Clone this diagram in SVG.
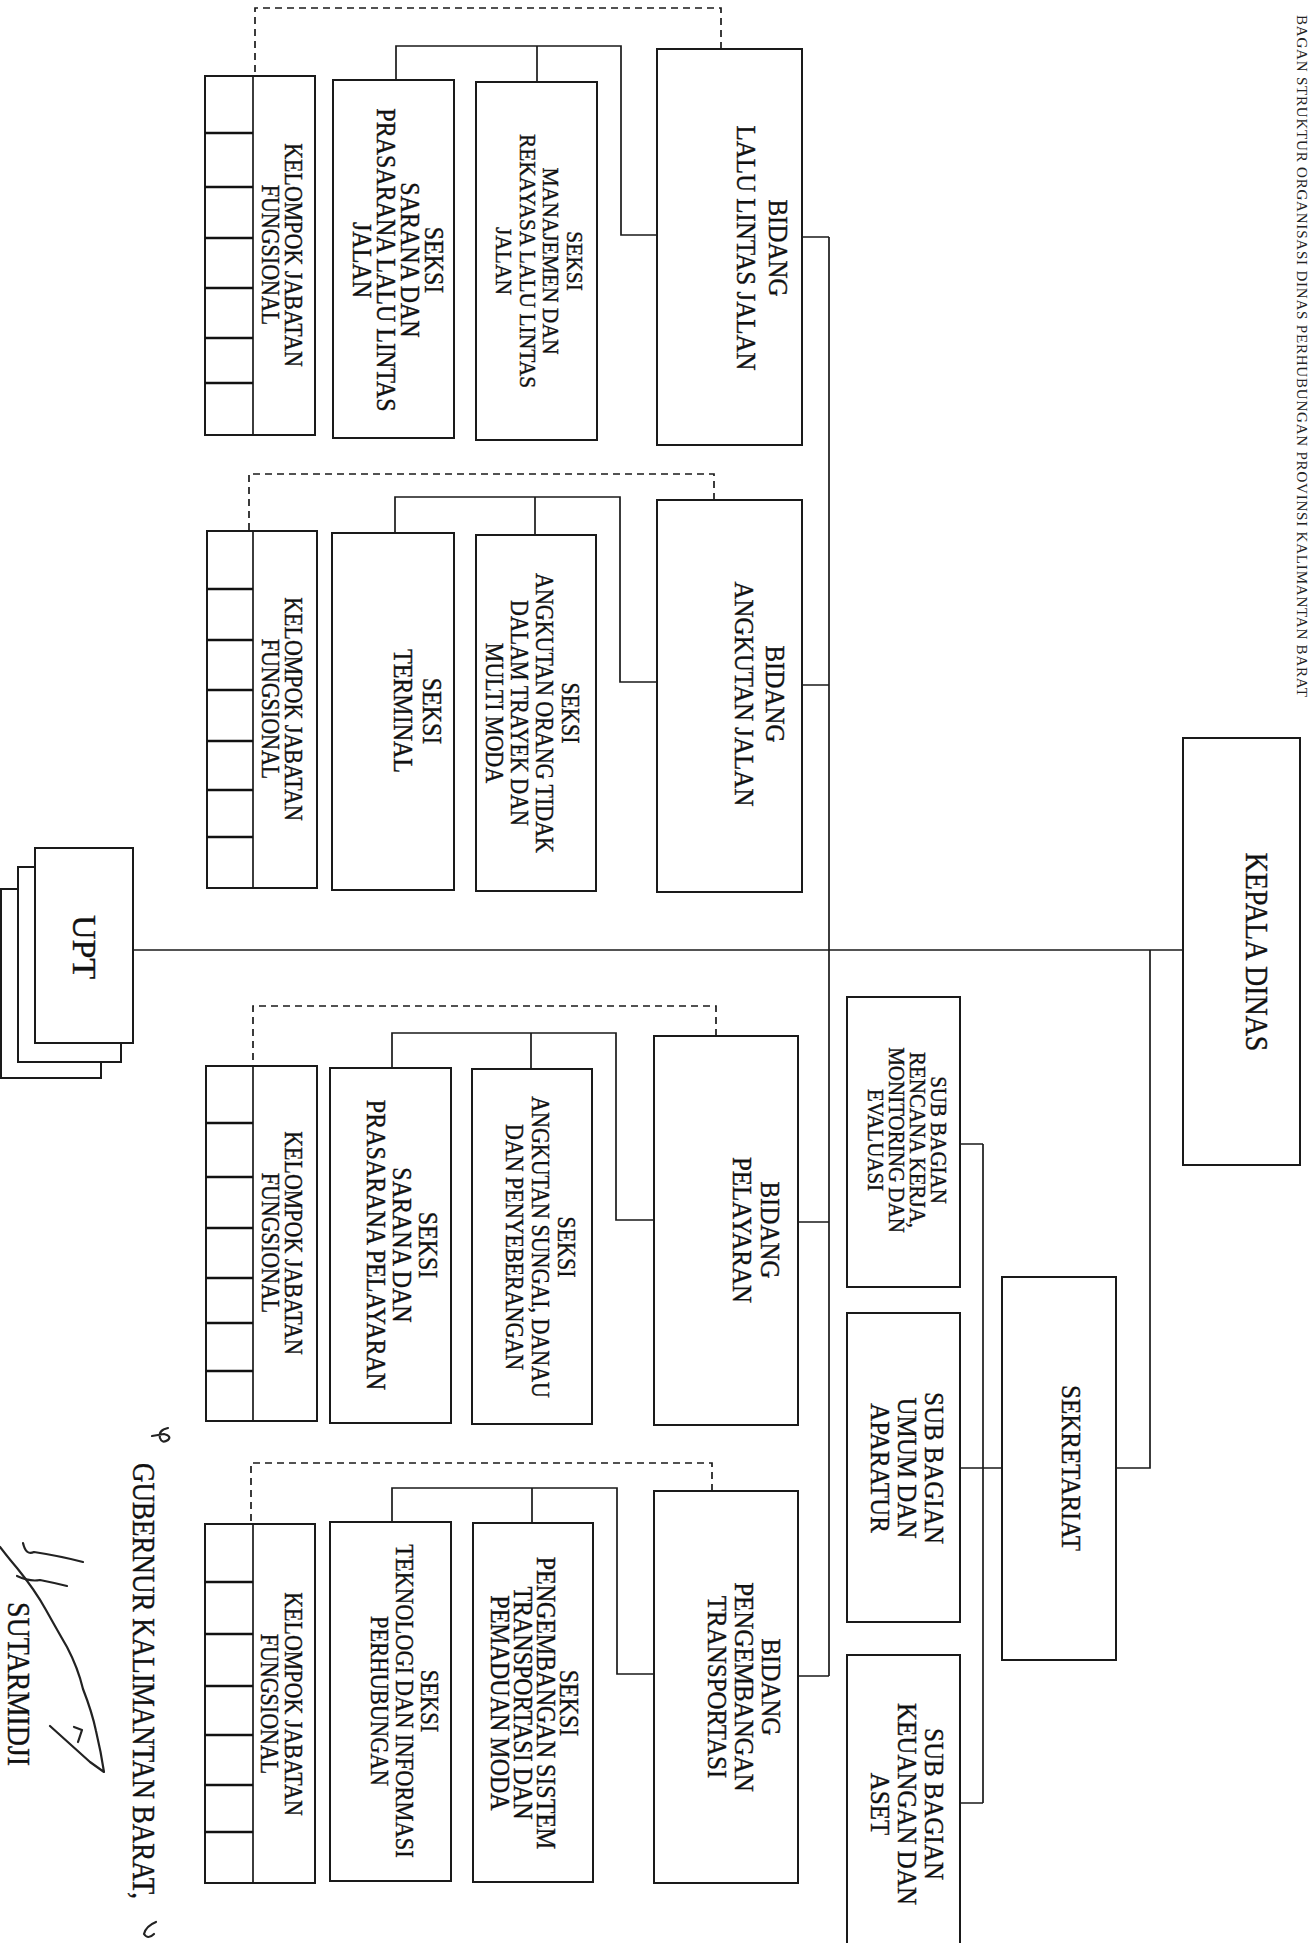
<svg xmlns="http://www.w3.org/2000/svg" width="1309" height="1943" viewBox="0 0 1309 1943">
<style>
.bg{fill:#fff}
.box{fill:#fff;stroke:#1a1a1a;stroke-width:2}
.ln{fill:none;stroke:#1a1a1a;stroke-width:1.7}
.dash{fill:none;stroke:#1a1a1a;stroke-width:1.7;stroke-dasharray:7 5}
.cell{fill:none;stroke:#111;stroke-width:2.4}
.t{font-family:"Liberation Serif","Times New Roman",serif;fill:#111;stroke:#111;stroke-width:0.35;text-anchor:middle}
.hd{font-family:"Liberation Serif","Times New Roman",serif;fill:#222;letter-spacing:0.8px}
.ink{fill:none;stroke:#222;stroke-width:2.2;stroke-linecap:round;stroke-linejoin:round}
</style>
<rect class="bg" x="0" y="0" width="1309" height="1943"/>

<text class="hd" font-size="15" transform="translate(1297,15) rotate(90)">BAGAN STRUKTUR ORGANISASI DINAS PERHUBUNGAN PROVINSI KALIMANTAN BARAT</text>

<g id="connectors">
  <path class="ln" d="M133 950 H1183"/>
  <path class="ln" d="M829 237 V1676"/>
  <path class="ln" d="M802 237 H829 M802 685 H829 M798 1222 H829 M798 1676 H829"/>
  <path class="ln" d="M1150 950 V1468 H1116"/>
  <path class="ln" d="M1002 1468 H960 M983 1144 V1803 M960 1144 H983 M960 1803 H983"/>
  <path class="ln" d="M657 235 H621 V46 H396 V80 M537 46 V82"/>
  <path class="ln" d="M657 682 H620 V497 H395 V533 M535 497 V535"/>
  <path class="ln" d="M654 1220 H616 V1033 H392 V1068 M531 1033 V1069"/>
  <path class="ln" d="M654 1674 H617 V1488 H392 V1522 M532 1488 V1523"/>
  <path class="dash" d="M721 49 V8 H255 V76"/>
  <path class="dash" d="M714 500 V474 H249 V531"/>
  <path class="dash" d="M716 1036 V1006 H253 V1066"/>
  <path class="dash" d="M712 1491 V1463 H251 V1524"/>
</g>

<g id="kepala-dinas">
  <rect class="box" x="1183" y="738" width="117" height="427"/>
  <text class="t" font-size="28" transform="translate(1246,952) rotate(90) scale(1,1.1)">KEPALA DINAS</text>
</g>

<g id="sekretariat">
  <rect class="box" x="1002" y="1277" width="114" height="383"/>
  <text class="t" font-size="25" transform="translate(1062,1468) rotate(90) scale(1,1.1)">SEKRETARIAT</text>
</g>

<g id="subbag-rencana">
  <rect class="box" x="847" y="997" width="113" height="290"/>
  <text class="t" font-size="21" transform="translate(931,1140) rotate(90) scale(1,1.1)"><tspan x="0" y="0">SUB  BAGIAN</tspan><tspan x="0" y="19.1">RENCANA KERJA,</tspan><tspan x="0" y="38.2">MONITORING DAN</tspan><tspan x="0" y="57.3">EVALUASI</tspan></text>
</g>

<g id="subbag-umum">
  <rect class="box" x="847" y="1313" width="113" height="309"/>
  <text class="t" font-size="25" transform="translate(925,1468) rotate(90) scale(1,1.1)"><tspan x="0" y="0">SUB BAGIAN</tspan><tspan x="0" y="24.5">UMUM DAN</tspan><tspan x="0" y="49.1">APARATUR</tspan></text>
</g>

<g id="subbag-keuangan">
  <rect class="box" x="847" y="1655" width="113" height="300"/>
  <text class="t" font-size="25" transform="translate(925,1804) rotate(90) scale(1,1.1)"><tspan x="0" y="0">SUB BAGIAN</tspan><tspan x="0" y="24.5">KEUANGAN DAN</tspan><tspan x="0" y="49.1">ASET</tspan></text>
</g>

<g id="upt">
  <rect class="box" x="1" y="889" width="100" height="189"/>
  <rect class="box" x="18" y="867" width="103" height="195"/>
  <rect class="box" x="35" y="848" width="98" height="195"/>
  <text class="t" font-size="34" transform="translate(73,947) rotate(90)">UPT</text>
</g>

<g id="bidang-llaj">
  <rect class="box" x="657" y="49" width="145" height="396"/>
  <text class="t" font-size="25" transform="translate(769,248) rotate(90) scale(1,1.1)"><tspan x="0" y="0">BIDANG</tspan><tspan x="0" y="29.1">LALU LINTAS JALAN</tspan></text>
</g>
<g id="seksi-manajemen">
  <rect class="box" x="476" y="82" width="121" height="358"/>
  <text class="t" font-size="21.5" transform="translate(567,261) rotate(90) scale(1,1.1)"><tspan x="0" y="0">SEKSI</tspan><tspan x="0" y="21.4">MANAJEMEN DAN</tspan><tspan x="0" y="42.7">REKAYASA LALU LINTAS</tspan><tspan x="0" y="64.1">JALAN</tspan></text>
</g>
<g id="seksi-sarana-llaj">
  <rect class="box" x="333" y="80" width="121" height="358"/>
  <text class="t" font-size="24" transform="translate(425,260) rotate(90) scale(1,1.1)"><tspan x="0" y="0">SEKSI</tspan><tspan x="0" y="21.8">SARANA DAN</tspan><tspan x="0" y="43.6">PRASARANA LALU LINTAS</tspan><tspan x="0" y="65.5">JALAN</tspan></text>
</g>
<g id="kelompok-1">
  <rect class="box" x="205" y="76" width="110" height="359"/>
  <path class="ln" d="M253 76 V435"/>
  <path class="cell" d="M205 133 H253 M205 187 H253 M205 238 H253 M205 288 H253 M205 338 H253 M205 383 H253"/>
  <text class="t" font-size="22" transform="translate(285,255) rotate(90) scale(1,1.1)"><tspan x="0" y="0">KELOMPOK JABATAN</tspan><tspan x="0" y="20.9">FUNGSIONAL</tspan></text>
</g>

<g id="bidang-angkutan">
  <rect class="box" x="657" y="500" width="145" height="392"/>
  <text class="t" font-size="25" transform="translate(766,694) rotate(90) scale(1,1.1)"><tspan x="0" y="0">BIDANG</tspan><tspan x="0" y="28.2">ANGKUTAN JALAN</tspan></text>
</g>
<g id="seksi-angkutan-orang">
  <rect class="box" x="476" y="535" width="120" height="356"/>
  <text class="t" font-size="22" transform="translate(562,713) rotate(90) scale(1,1.1)"><tspan x="0" y="0">SEKSI</tspan><tspan x="0" y="23.2">ANGKUTAN ORANG TIDAK</tspan><tspan x="0" y="46.4">DALAM TRAYEK DAN</tspan><tspan x="0" y="69.5">MULTI MODA</tspan></text>
</g>
<g id="seksi-terminal">
  <rect class="box" x="332" y="533" width="122" height="357"/>
  <text class="t" font-size="24" transform="translate(423,711) rotate(90) scale(1,1.1)"><tspan x="0" y="0">SEKSI</tspan><tspan x="0" y="26.4">TERMINAL</tspan></text>
</g>
<g id="kelompok-2">
  <rect class="box" x="207" y="531" width="110" height="357"/>
  <path class="ln" d="M253 531 V888"/>
  <path class="cell" d="M207 589 H253 M207 640 H253 M207 690 H253 M207 741 H253 M207 790 H253 M207 837 H253"/>
  <text class="t" font-size="22" transform="translate(285,709) rotate(90) scale(1,1.1)"><tspan x="0" y="0">KELOMPOK JABATAN</tspan><tspan x="0" y="20.9">FUNGSIONAL</tspan></text>
</g>

<g id="bidang-pelayaran">
  <rect class="box" x="654" y="1036" width="144" height="389"/>
  <text class="t" font-size="25" transform="translate(761,1230) rotate(90) scale(1,1.1)"><tspan x="0" y="0">BIDANG</tspan><tspan x="0" y="25.5">PELAYARAN</tspan></text>
</g>
<g id="seksi-angkutan-sungai">
  <rect class="box" x="472" y="1069" width="120" height="355"/>
  <text class="t" font-size="22" transform="translate(558,1247) rotate(90) scale(1,1.1)"><tspan x="0" y="0">SEKSI</tspan><tspan x="0" y="23.6">ANGKUTAN SUNGAI, DANAU</tspan><tspan x="0" y="47.3">DAN PENYEBERANGAN</tspan></text>
</g>
<g id="seksi-sarana-pelayaran">
  <rect class="box" x="330" y="1068" width="121" height="355"/>
  <text class="t" font-size="24" transform="translate(419,1245) rotate(90) scale(1,1.1)"><tspan x="0" y="0">SEKSI</tspan><tspan x="0" y="23.6">SARANA DAN</tspan><tspan x="0" y="47.3">PRASARANA PELAYARAN</tspan></text>
</g>
<g id="kelompok-3">
  <rect class="box" x="206" y="1066" width="111" height="355"/>
  <path class="ln" d="M253 1066 V1421"/>
  <path class="cell" d="M206 1123 H253 M206 1177 H253 M206 1228 H253 M206 1278 H253 M206 1323 H253 M206 1371 H253"/>
  <text class="t" font-size="22" transform="translate(285,1243) rotate(90) scale(1,1.1)"><tspan x="0" y="0">KELOMPOK JABATAN</tspan><tspan x="0" y="20.9">FUNGSIONAL</tspan></text>
</g>

<g id="bidang-pengembangan">
  <rect class="box" x="654" y="1491" width="144" height="392"/>
  <text class="t" font-size="25" transform="translate(762,1687) rotate(90) scale(1,1.1)"><tspan x="0" y="0">BIDANG</tspan><tspan x="0" y="24.5">PENGEMBANGAN</tspan><tspan x="0" y="49.1">TRANSPORTASI</tspan></text>
</g>
<g id="seksi-pengembangan-sistem">
  <rect class="box" x="473" y="1523" width="120" height="359"/>
  <text class="t" font-size="24" transform="translate(560,1703) rotate(90) scale(1,1.1)"><tspan x="0" y="0">SEKSI</tspan><tspan x="0" y="20.9">PENGEMBANGAN SISTEM</tspan><tspan x="0" y="41.8">TRANSPORTASI DAN</tspan><tspan x="0" y="62.7">PEMADUAN MODA</tspan></text>
</g>
<g id="seksi-teknologi">
  <rect class="box" x="330" y="1522" width="121" height="359"/>
  <text class="t" font-size="22.5" transform="translate(421,1701) rotate(90) scale(1,1.1)"><tspan x="0" y="0">SEKSI</tspan><tspan x="0" y="22.7">TEKNOLOGI DAN INFORMASI</tspan><tspan x="0" y="45.5">PERHUBUNGAN</tspan></text>
</g>
<g id="kelompok-4">
  <rect class="box" x="205" y="1524" width="110" height="359"/>
  <path class="ln" d="M253 1524 V1883"/>
  <path class="cell" d="M205 1582 H253 M205 1634 H253 M205 1686 H253 M205 1735 H253 M205 1785 H253 M205 1832 H253"/>
  <text class="t" font-size="22" transform="translate(285,1704) rotate(90) scale(1,1.1)"><tspan x="0" y="0">KELOMPOK JABATAN</tspan><tspan x="0" y="21.8">FUNGSIONAL</tspan></text>
</g>

<text class="t" font-size="27" transform="translate(133,1681) rotate(90) scale(1,1.15)">GUBERNUR KALIMANTAN BARAT,</text>
<text class="t" font-size="28" transform="translate(8,1684) rotate(90) scale(1,1.15)">SUTARMIDJI</text>
<path class="ink" d="M168 1428 q-10 2 -8 10 q2 6 8 2 q4 -4 -4 -6 l-12 2"/>
<path class="ink" d="M156 1922 q-10 4 -12 12 q4 6 10 0"/>
<path class="ink" d="M0 1547 Q10 1560 17 1568 Q35 1590 46 1610 Q60 1635 67 1647 Q78 1668 83 1689 Q92 1712 96 1731 Q101 1752 104 1772 L90 1762 L50 1726"/>
<path class="ink" d="M23 1543 Q26 1556 34 1552 Q60 1556 83 1562"/>
<path class="ink" d="M17 1576 Q30 1582 40 1580 Q55 1583 67 1586"/>
<path class="ink" d="M74 1727 L82 1730 L78 1742"/>
</svg>
